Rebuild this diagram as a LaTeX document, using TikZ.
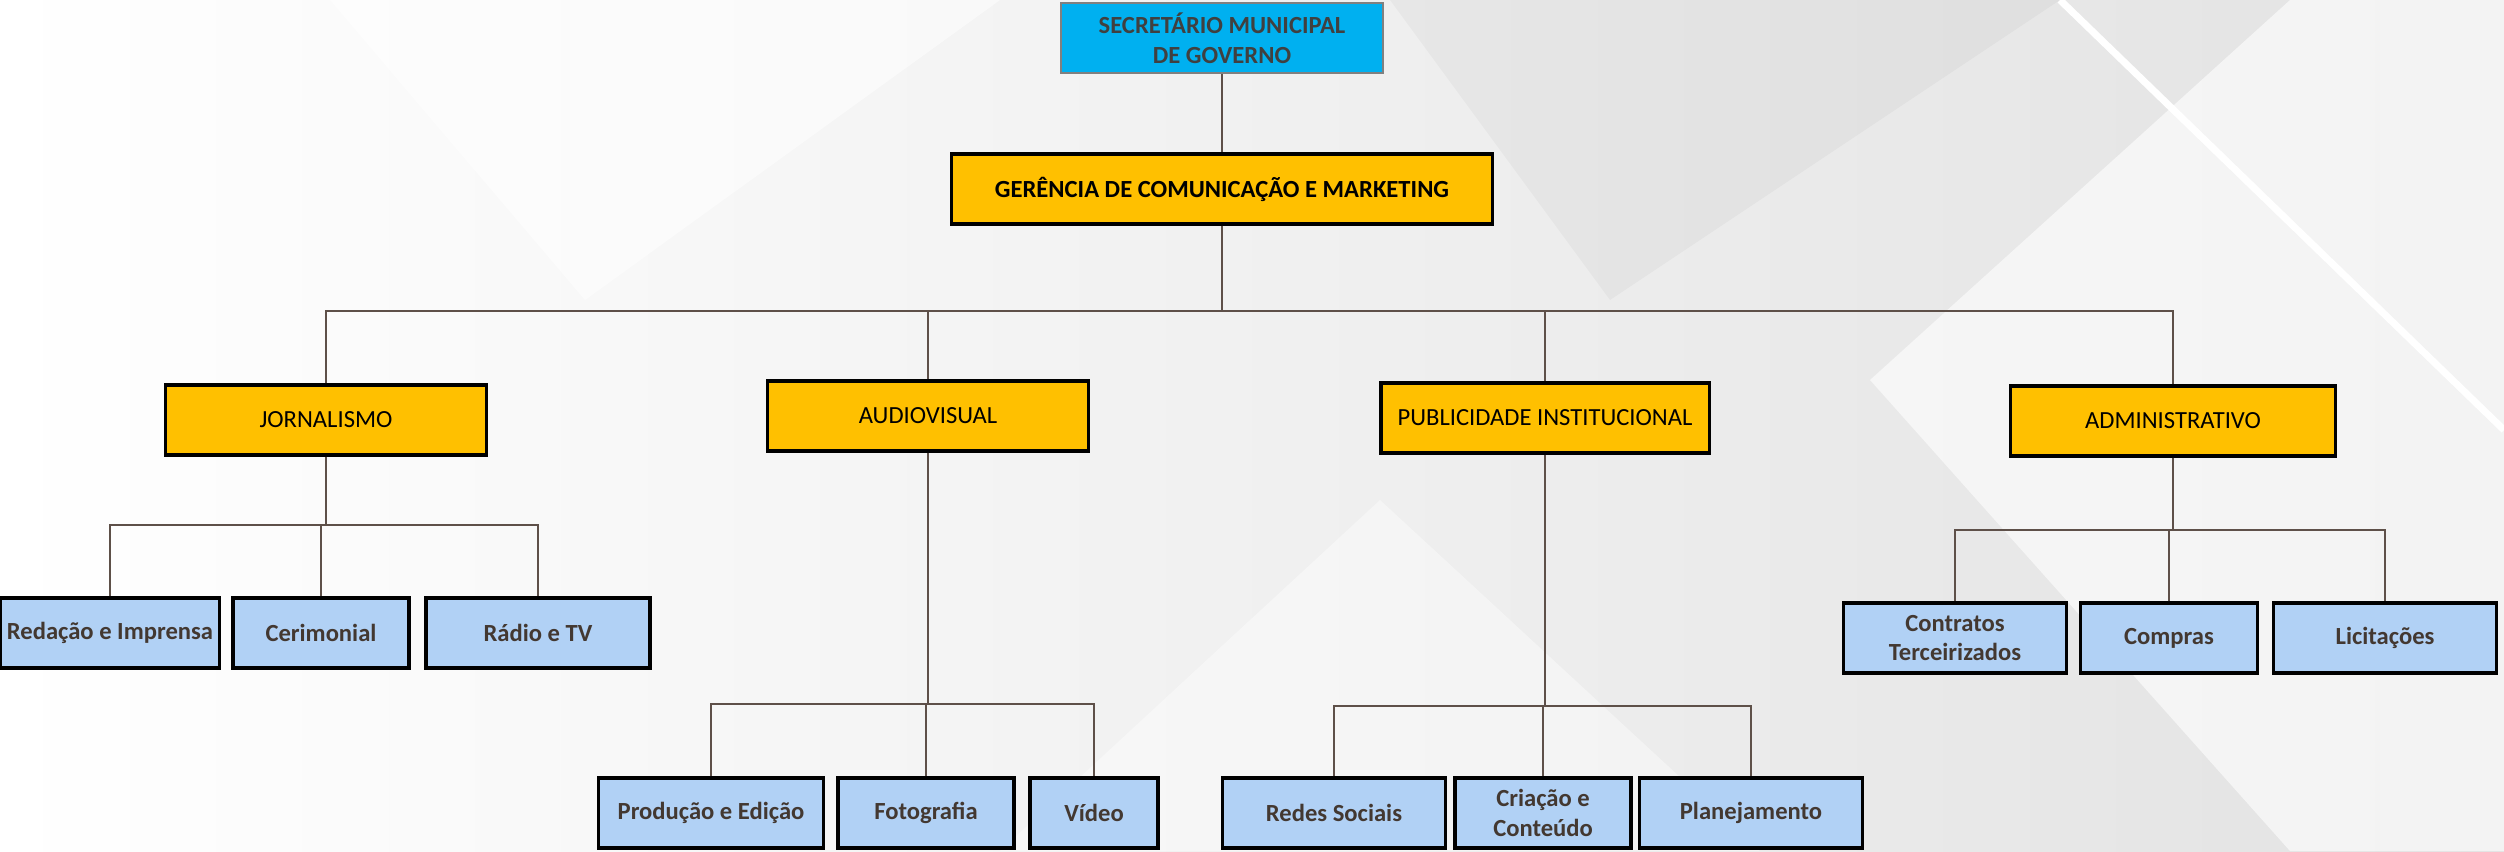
\documentclass[tikz,border=0pt]{standalone}
\usepackage{fontspec}
\setmainfont{Carlito}
\usetikzlibrary{positioning}
\definecolor{MyCyan}{HTML}{00B0F0}
\definecolor{MyOrange}{HTML}{FFC000}
\definecolor{MyBlue}{HTML}{B1D1F5}
\definecolor{MyLine}{HTML}{5E5049}
\definecolor{MyText}{HTML}{433831}
\definecolor{MyBg}{HTML}{E2E2E2}
\newcommand{\orgfont}{\fontsize{7}{8.5}\selectfont}

\begin{document}
\begin{tikzpicture} [
			x=0.01cm, y=-0.01cm,
			every node/.style={align=center,draw,rectangle,inner sep=1pt},
			chief/.style={fill=MyCyan,draw=gray,line width=0.6pt,text=black!75,font=\orgfont\bfseries,minimum width=3.22cm,minimum height=0.7cm},
			head/.style={fill=MyOrange,line width=0.9pt,font=\orgfont\bfseries,minimum width=5.4cm,minimum height=0.7cm},
			dept/.style={fill=MyOrange,line width=0.9pt,font=\orgfont,minimum height=0.7cm},
			sect/.style={fill=MyBlue,line width=0.9pt,text=MyText,font=\orgfont\bfseries,minimum height=0.7cm},
			link/.style={draw=MyLine,line width=0.45pt}
		]
			% background
			\useasboundingbox (0,0) rectangle (2504,851);
			\shade[left color=white,right color=MyBg] (0,0) rectangle (2504,851);
			\fill[white,opacity=0.5] (330,0) -- (585,300) -- (1000,0) -- cycle;
			\fill[black,opacity=0.03] (1390,0) -- (1610,300) -- (2060,0) -- cycle;
			\fill[white,opacity=0.6] (1870,380) -- (2290,0) -- (2504,0) -- (2504,851) -- (2290,851) -- cycle;
			\draw[white,line width=2pt] (2060,0) -- (2504,430);
			\fill[white,opacity=0.4] (1000,851) -- (1380,500) -- (1760,851) -- cycle;
			% nodes
			\node at (1222,38) [chief] (secretario) {SECRETÁRIO MUNICIPAL\\DE GOVERNO};
			\node at (1222,189) [head] (gerencia) {GERÊNCIA DE COMUNICAÇÃO E MARKETING};
			\node at (326,420) [dept,minimum width=3.2cm] (jorn) {JORNALISMO};
			\node at (928,416) [dept,minimum width=3.21cm] (audio) {AUDIOVISUAL};
			\node at (1545,418) [dept,minimum width=3.28cm] (publi) {PUBLICIDADE INSTITUCIONAL};
			\node at (2173,421) [dept,minimum width=3.25cm] (adm) {ADMINISTRATIVO};
			\node at (110,633) [sect,minimum width=2.19cm] (redacao) {Redação e Imprensa};
			\node at (321,633) [sect,minimum width=1.76cm] (cerim) {Cerimonial};
			\node at (538,633) [sect,minimum width=2.24cm] (radio) {Rádio e TV};
			\node at (711,813) [sect,minimum width=2.25cm] (producao) {Produção e Edição};
			\node at (926,813) [sect,minimum width=1.76cm] (foto) {Fotografia};
			\node at (1094,813) [sect,minimum width=1.28cm] (video) {Vídeo};
			\node at (1334,813) [sect,minimum width=2.23cm] (redes) {Redes Sociais};
			\node at (1543,813) [sect,minimum width=1.76cm] (criacao) {Criação e\\Conteúdo};
			\node at (1751,813) [sect,minimum width=2.23cm] (planej) {Planejamento};
			\node at (1955,638) [sect,minimum width=2.23cm] (contratos) {Contratos\\Terceirizados};
			\node at (2169,638) [sect,minimum width=1.77cm] (compras) {Compras};
			\node at (2385,638) [sect,minimum width=2.23cm] (licit) {Licitações};
			% bus lines
			\coordinate (busmain) at (0,311);
			\coordinate (busjorn) at (0,525);
			\coordinate (busaudio) at (0,704);
			\coordinate (buspubli) at (0,706);
			\coordinate (busadm) at (0,530);
			\path[link] (secretario) -- (gerencia);
			\path[link] (gerencia) -- (gerencia |- busmain);
			\path[link] (jorn.north) -- (jorn.north |- busmain) -- (adm.north |- busmain) -- (adm.north);
			\path[link] (audio.north) -- (audio.north |- busmain);
			\path[link] (publi.north) -- (publi.north |- busmain);
			\path[link] (jorn) -- (jorn |- busjorn);
			\path[link] (redacao.north) -- (redacao.north |- busjorn) -- (radio.north |- busjorn) -- (radio.north);
			\path[link] (cerim.north) -- (cerim.north |- busjorn);
			\path[link] (audio) -- (audio |- busaudio);
			\path[link] (producao.north) -- (producao.north |- busaudio) -- (video.north |- busaudio) -- (video.north);
			\path[link] (foto.north) -- (foto.north |- busaudio);
			\path[link] (publi) -- (publi |- buspubli);
			\path[link] (redes.north) -- (redes.north |- buspubli) -- (planej.north |- buspubli) -- (planej.north);
			\path[link] (criacao.north) -- (criacao.north |- buspubli);
			\path[link] (adm) -- (adm |- busadm);
			\path[link] (contratos.north) -- (contratos.north |- busadm) -- (licit.north |- busadm) -- (licit.north);
			\path[link] (compras.north) -- (compras.north |- busadm);
		\end{tikzpicture}
\end{document}
